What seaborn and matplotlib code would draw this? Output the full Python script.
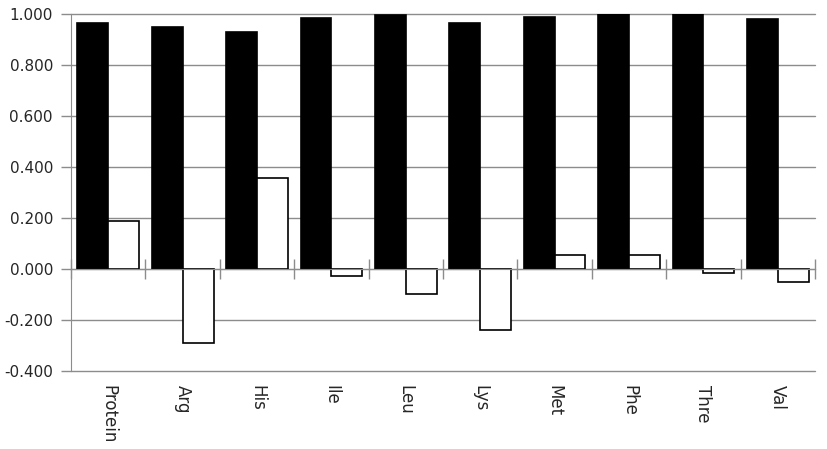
import matplotlib
matplotlib.use("Agg")
import matplotlib.pyplot as plt
import seaborn as sns
import pandas as pd
import numpy as np

categories = ["Protein", "Arg", "His", "Ile", "Leu", "Lys", "Met", "Phe", "Thre", "Val"]
series_a = [0.966, 0.948, 0.931, 0.983, 0.995, 0.966, 0.987, 0.999, 0.999, 0.982]
series_b = [0.188, -0.289, 0.356, -0.027, -0.099, -0.239, 0.055, 0.055, -0.017, -0.050]
series_names = ["A", "B"]
y_ticks = [-0.4, -0.2, 0.0, 0.2, 0.4, 0.6, 0.8, 1.0]

df = pd.DataFrame({
    "category": categories * 2,
    "value": series_a + series_b,
    "series": [series_names[0]] * len(categories) + [series_names[1]] * len(categories),
})

sns.set_style("white")
plt.rcParams["font.family"] = ["DejaVu Sans"]

fig = plt.figure(figsize=(8.27, 4.49), dpi=100)
ax = fig.add_axes([0.0859, 0.1737, 0.8996, 0.7951])

sns.barplot(data=df, x="category", y="value", hue="series", order=categories,
            hue_order=series_names, palette=["black", "white"], edgecolor="black",
            linewidth=1.2, width=0.83, ax=ax, legend=False)

grid_c = "#8c8c8c"
ax.set_ylim(-0.4, 1.0)
ax.set_xlim(-0.5, len(categories) - 0.5)
ax.set_yticks(y_ticks)
ax.set_yticklabels([f"{v:.3f}" for v in y_ticks], fontsize=11)
ax.yaxis.grid(True, color=grid_c, linewidth=1)
for gl in ax.get_ygridlines():
    gl.set_clip_on(False)
ax.set_axisbelow(True)
ax.tick_params(axis="y", length=7, color=grid_c, width=1, pad=6, direction="out", left=True)

for s in ["top", "right"]:
    ax.spines[s].set_visible(False)
ax.spines["left"].set_color(grid_c)
ax.spines["bottom"].set_position(("data", 0))
ax.spines["bottom"].set_color(grid_c)

bounds = np.arange(-0.5, len(categories), 1.0)
ax.set_xticks(bounds)
ax.set_xticklabels([])
ax.tick_params(axis="x", direction="inout", length=14, color=grid_c, width=1, bottom=True)
ax.set_xlabel("")
ax.set_ylabel("")

sec = ax.secondary_xaxis("bottom")
sec.set_xticks(range(len(categories)))
sec.set_xticklabels(categories, rotation=-90, fontsize=12)
sec.tick_params(length=0, pad=10)
sec.spines["bottom"].set_visible(False)

fig.savefig("out.png", dpi=100)
